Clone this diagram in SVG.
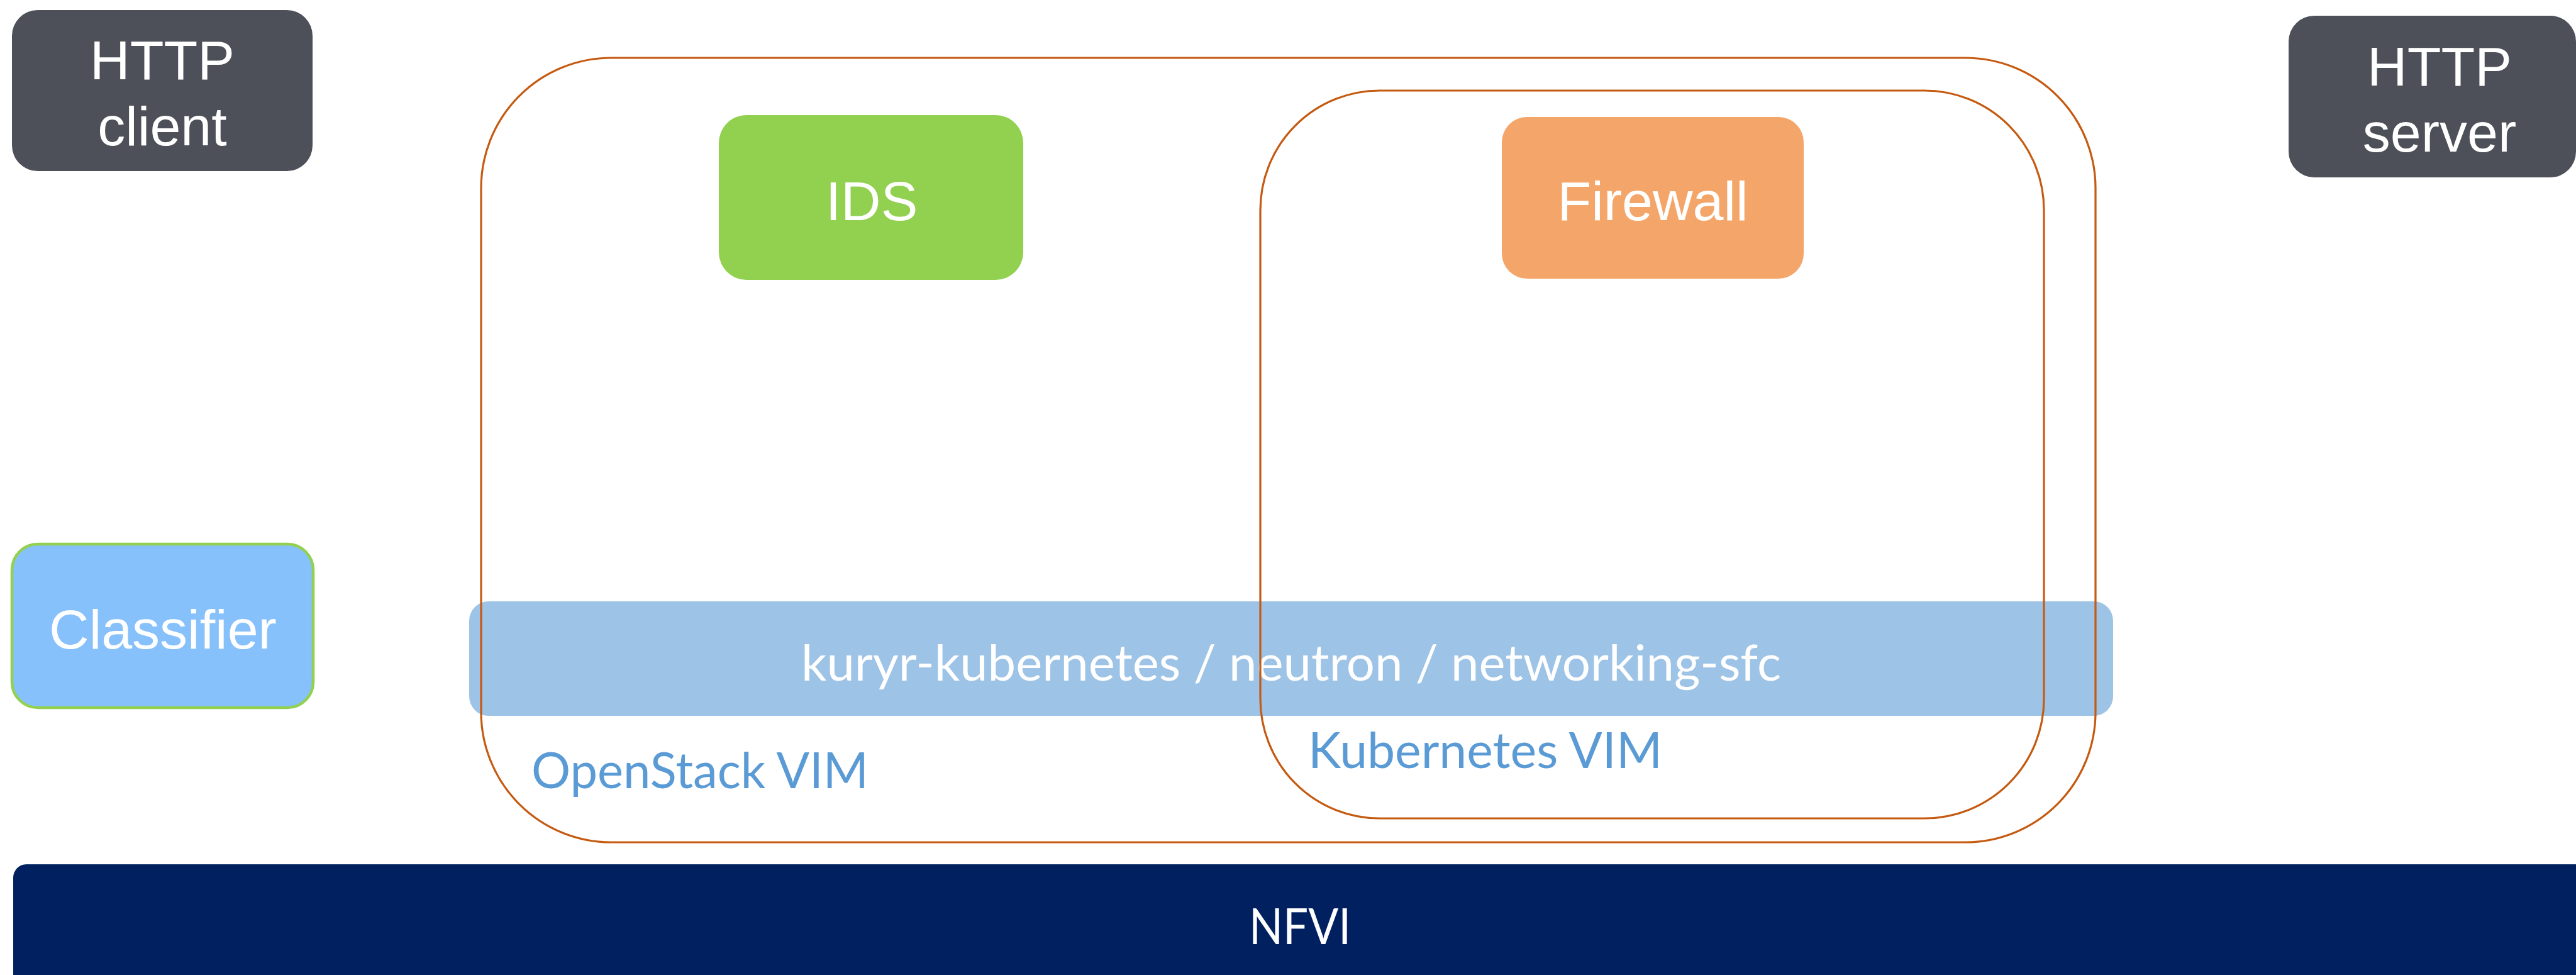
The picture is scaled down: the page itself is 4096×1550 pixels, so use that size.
<svg xmlns="http://www.w3.org/2000/svg" width="4096" height="1550" viewBox="0 0 4096 1550">
<style>
.nodeText{font-family:"Liberation Sans",Arial,sans-serif;font-size:88px;fill:#ffffff;text-anchor:middle}
.calText{font-family:Lato,"Open Sans",sans-serif;font-size:80px}
.vim{fill:none;stroke:#C55A11;stroke-width:3.2}
</style>
<rect x="0" y="0" width="4096" height="1550" fill="#ffffff"/>
<g id="nfvi">
<rect x="21" y="1374" width="4100" height="220" rx="21" ry="21" fill="#002060"/>
<text class="calText" x="2067" y="1501" fill="#ffffff" text-anchor="middle" textLength="162" lengthAdjust="spacingAndGlyphs">NFVI</text>
</g>
<g id="http-client">
<rect x="19" y="16" width="478" height="256" rx="41" ry="41" fill="#4D5058"/>
<text class="nodeText" x="258" y="126">HTTP</text>
<text class="nodeText" x="258" y="231">client</text>
</g>
<g id="http-server">
<rect x="3639" y="25" width="457" height="257" rx="41" ry="41" fill="#4D5058"/>
<text class="nodeText" x="3879" y="136">HTTP</text>
<text class="nodeText" x="3879" y="241">server</text>
</g>
<g id="classifier">
<rect x="19" y="865" width="479" height="260" rx="41" ry="41" fill="#86C1FB" stroke="#92D050" stroke-width="4.5"/>
<text class="nodeText" x="259" y="1031">Classifier</text>
</g>
<g id="ids">
<rect x="1143" y="183" width="484" height="262" rx="44" ry="44" fill="#92D050"/>
<text class="nodeText" x="1386" y="350">IDS</text>
</g>
<g id="firewall">
<rect x="2388" y="186" width="480" height="257" rx="40" ry="40" fill="#F4A66A"/>
<text class="nodeText" x="2628" y="350">Firewall</text>
</g>
<g id="sfc-band">
<rect x="746" y="956" width="2614" height="182" rx="31" ry="31" fill="#9DC3E6"/>
<text class="calText" x="2053" y="1082" fill="#ffffff" text-anchor="middle" textLength="1558" lengthAdjust="spacingAndGlyphs">kuryr-kubernetes / neutron / networking-sfc</text>
</g>
<g id="openstack-vim">
<rect class="vim" x="765" y="92" width="2567" height="1247" rx="207" ry="207"/>
<text class="calText" x="845" y="1253" fill="#5B9BD5" textLength="536" lengthAdjust="spacingAndGlyphs">OpenStack VIM</text>
</g>
<g id="kubernetes-vim">
<rect class="vim" x="2004" y="144" width="1246" height="1157" rx="190" ry="190"/>
<text class="calText" x="2080" y="1221" fill="#5B9BD5" textLength="563" lengthAdjust="spacingAndGlyphs">Kubernetes VIM</text>
</g>
<g id="connectors"></g>
</svg>
